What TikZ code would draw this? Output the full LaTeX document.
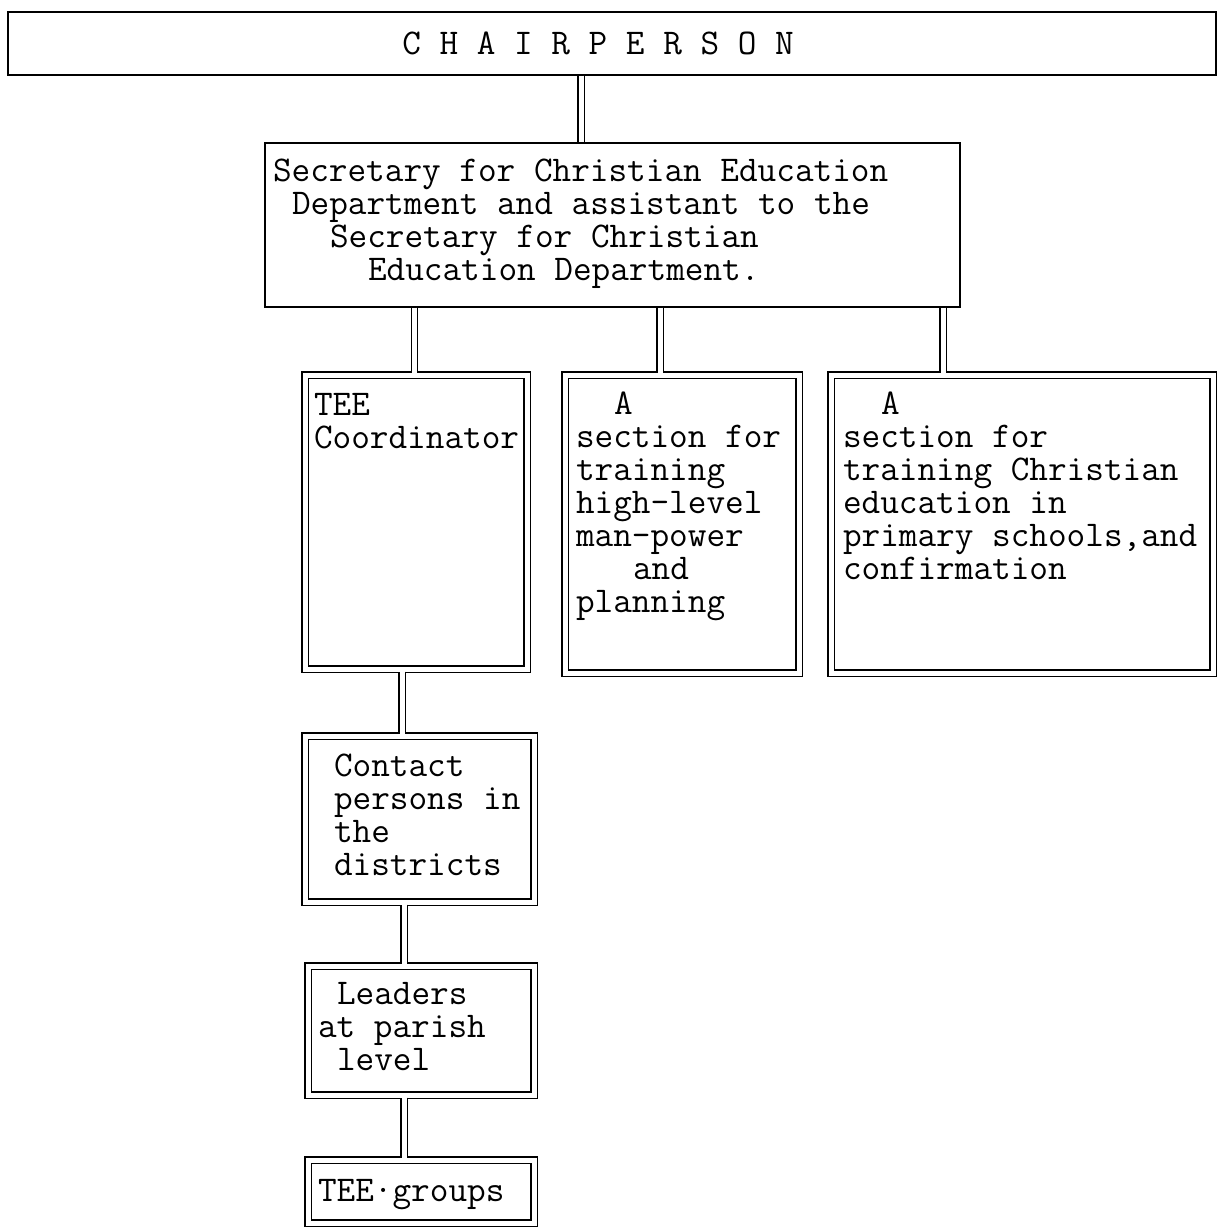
\documentclass[tikz,border=0pt]{standalone}
\usetikzlibrary{positioning}

% one typewriter cell is 0.525em wide in Latin Modern Mono
\newcommand{\pad}[1]{\hspace*{\dimexpr 0.525em*#1\relax}}
\newcommand{\unittext}[3]{\parbox[c][#2][t]{#1}{\begin{tabular}[t]{@{}l@{}}#3\end{tabular}}}

\begin{document}
\begin{tikzpicture}[x=1pt, y=-1pt,
    plain/.style={draw, line width=1.3pt, inner sep=0pt, outer sep=0pt, anchor=north west,
        font=\ttfamily\fontsize{36.2}{33}\selectfont},
    unit/.style={plain, double, double distance=5pt},
    link/.style={draw, double, double distance=5pt, line width=1.3pt}
]
\useasboundingbox (0,0) rectangle (1218,1228);

% top
\node[plain, minimum width=1208pt, minimum height=63pt] (chair) at (8,12) {C H A I R P E R S O N\hspace*{28pt}};
\node[plain, inner xsep=8pt, inner ysep=15pt] (sec) at (265,143)
    {\unittext{679pt}{134pt}{Secretary for Christian Education\\
     \pad{1}Department and assistant to the\\
     \pad{3}Secretary for Christian\\
     \pad{5}Education Department.}};

% sections
\node[unit, inner xsep=9pt, inner ysep=17pt] (tee) at (305,375)
    {\unittext{204pt}{260pt}{TEE\\Coordinator}};
\node[unit, inner xsep=11pt, inner ysep=16pt, right=38pt of tee.north east, anchor=north west] (train)
    {\unittext{212pt}{266pt}{\pad{2}A\\section for\\training\\high-level\\man-power\\\pad{3}and\\planning}};
\node[unit, inner xsep=12pt, inner ysep=16pt, right=32pt of train.north east, anchor=north west] (confirm)
    {\unittext{358pt}{266pt}{\pad{2}A\\section for\\training Christian\\education in\\primary schools,and\\confirmation}};

% TEE chain
\node[unit, inner xsep=29pt, inner ysep=17pt, below=67pt of tee.south west, anchor=north west] (contact)
    {\unittext{171pt}{132pt}{Contact\\persons in\\the\\districts}};
\node[unit, inner xsep=10pt, inner ysep=15pt, below=64pt of contact.south west, xshift=3pt, anchor=north west] (leaders)
    {\unittext{206pt}{99pt}{\pad{1}Leaders\\at parish\\\pad{1}level}};
\node[unit, inner xsep=10pt, inner ysep=18pt, below=65pt of leaders.south west, anchor=north west] (groups)
    {\unittext{206pt}{27pt}{TEE·groups}};

% junction points
\coordinate (j-sec) at ([xshift=-31.5pt]sec.north);
\coordinate (j-tee) at ([xshift=-1.5pt]tee.north);
\coordinate (j-train) at ([xshift=-22pt]train.north);
\coordinate (j-confirm) at ([xshift=-79pt]confirm.north);
\coordinate (j-contact) at ([xshift=-14pt]tee.south);
\coordinate (j-leaders) at ([xshift=-15.5pt]contact.south);
\coordinate (j-groups) at ([xshift=-17pt]leaders.south);

\draw[link, shorten <=0.65pt, shorten >=0.65pt] (chair.south -| j-sec) -- (j-sec);
\draw[link, shorten <=0.65pt, shorten >=2.5pt] (sec.south -| j-tee) -- (j-tee);
\draw[link, shorten <=0.65pt, shorten >=2.5pt] (sec.south -| j-train) -- (j-train);
\draw[link, shorten <=0.65pt, shorten >=2.5pt] (sec.south -| j-confirm) -- (j-confirm);
\draw[link, shorten <=2.5pt, shorten >=2.5pt] (j-contact) -- (j-contact |- contact.north);
\draw[link, shorten <=2.5pt, shorten >=2.5pt] (j-leaders) -- (j-leaders |- leaders.north);
\draw[link, shorten <=2.5pt, shorten >=2.5pt] (j-groups) -- (j-groups |- groups.north);
\end{tikzpicture}
\end{document}
